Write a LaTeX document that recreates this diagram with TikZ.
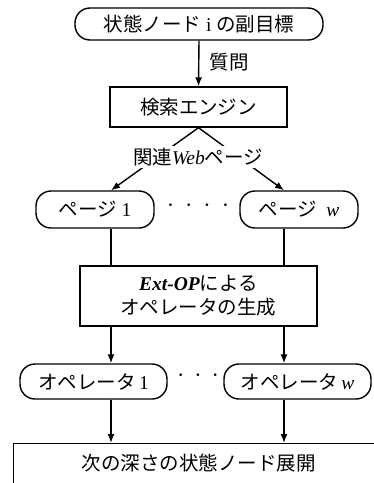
\documentclass[tikz,border=0pt]{standalone}
\usepackage{fontspec}
\setmainfont{Liberation Serif}
\newfontfamily\jp{Noto Sans CJK JP}
\usetikzlibrary{arrows.meta,calc}
\begin{document}
\begin{tikzpicture}[x=1pt,y=-1pt, line width=1.4pt,
  every node/.style={font=\fontsize{19.5}{24}\selectfont},
  rbox/.style={draw, rounded corners=15pt, inner sep=0pt},
  sbox/.style={draw, inner sep=0pt},
  arr/.style={-{Latex[length=9pt,width=7pt]}},
  lbl/.style={inner sep=1pt},
  dots/.style={inner sep=0pt, font=\fontsize{22}{24}\selectfont}]
\useasboundingbox (0,0) rectangle (374,483);
\clip (0,0) rectangle (374,483);
\coordinate (L) at (111,0);
\coordinate (R) at (284,0);
% top
\node[rbox, minimum width=248pt, minimum height=32pt] (top) at (199,24) {{\jp 状態ノード}\ i\ {\jp の副目標}};
\node[sbox, minimum width=177pt, minimum height=40pt] (se) at (198.5,107) {\jp 検索エンジン};
\draw[arr] (top.south) -- (se.north);
\node[lbl, anchor=west] (q) at (208,62) {\jp 質問};
% pages
\node[rbox, minimum width=118pt, minimum height=37pt] (p1) at (95,209.5) {{\jp ページ}\ 1};
\node[rbox, minimum width=118pt, minimum height=37pt] (pw) at (299,209.5) {{\jp ページ}\ \ \textit{w}};
\node[dots] (d1) at (198,208) {\textperiodcentered\hspace{11pt}\textperiodcentered\hspace{11pt}\textperiodcentered\hspace{11pt}\textperiodcentered};
\draw[arr] (se.south) -- (p1.north -| L);
\draw[arr] (se.south) -- (pw.north -| R);
\node[fill=white, inner sep=2pt] (rel) at (198,157) {{\jp 関連}\textit{Web}{\jp ページ}};
% ext-op
\node[sbox, minimum width=237pt, minimum height=60pt, align=center] (ext) at (198.5,296) {\textbf{\textit{Ext-OP}}{\jp による}\\{\jp オペレータの生成}};
\draw (p1.south -| L) -- (ext.north -| L);
\draw (pw.south -| R) -- (ext.north -| R);
% operators
\node[rbox, minimum width=147pt, minimum height=35pt] (o1) at (93.5,381.5) {{\jp オペレータ}\,1};
\node[rbox, minimum width=147pt, minimum height=35pt] (ow) at (297.5,381.5) {{\jp オペレータ}\,\textit{w}};
\node[dots] (d2) at (198,378) {\textperiodcentered\hspace{10pt}\textperiodcentered\hspace{10pt}\textperiodcentered};
\draw[arr] (ext.south -| L) -- (o1.north -| L);
\draw[arr] (ext.south -| R) -- (ow.north -| R);
% bottom
\node[draw, anchor=north west, inner xsep=0pt, inner ysep=9.5pt, text width=370pt, align=center, text height=17pt, text depth=40pt] (bot) at (13,443) {\jp 次の深さの状態ノード展開};
\draw[arr] (o1.south -| L) -- (bot.north -| L);
\draw[arr] (ow.south -| R) -- (bot.north -| R);
\end{tikzpicture}
\end{document}
